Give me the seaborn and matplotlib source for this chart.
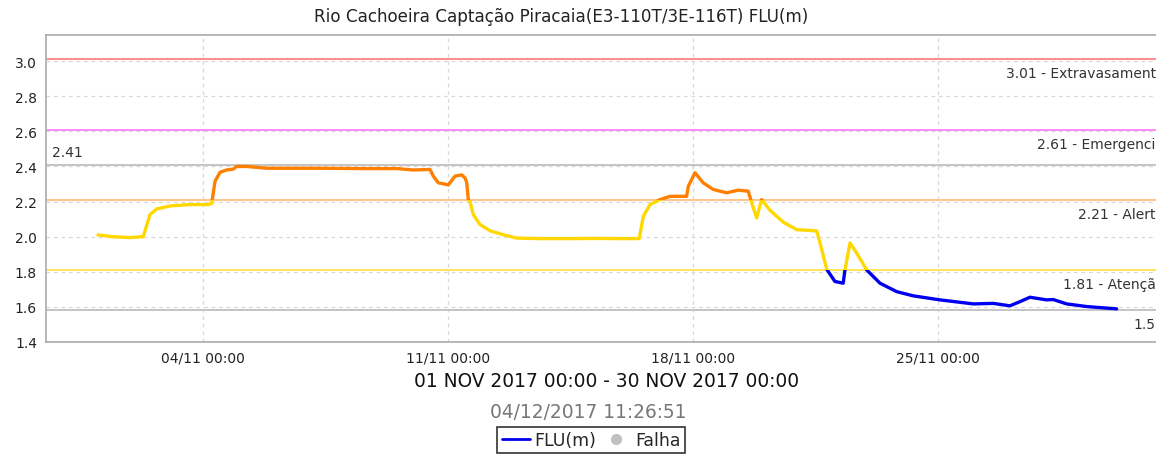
import matplotlib
matplotlib.use("Agg")
import matplotlib.pyplot as plt
import matplotlib.dates as mdates
import matplotlib.transforms as mtransforms
from matplotlib.patches import Rectangle
from matplotlib.lines import Line2D
import pandas as pd
import seaborn as sns

# leituras de nivel (m) - Rio Cachoeira, novembro 2017
tempos = [
    "2017-11-01 00:00", "2017-11-01 10:00", "2017-11-01 22:00", "2017-11-02 06:00",
    "2017-11-02 07:00", "2017-11-02 11:40", "2017-11-02 16:15", "2017-11-03 01:20",
    "2017-11-03 15:00", "2017-11-04 03:40", "2017-11-04 06:00", "2017-11-04 08:15",
    "2017-11-04 11:40", "2017-11-04 16:15", "2017-11-04 20:45", "2017-11-04 23:00",
    "2017-11-05 06:00", "2017-11-05 19:40", "2017-11-07 03:25", "2017-11-08 13:40",
    "2017-11-09 12:50", "2017-11-10 00:00", "2017-11-10 11:40", "2017-11-10 13:55",
    "2017-11-10 17:20", "2017-11-11 00:15", "2017-11-11 04:50", "2017-11-11 09:25",
    "2017-11-11 11:40", "2017-11-11 12:50", "2017-11-11 13:55", "2017-11-11 15:05",
    "2017-11-11 17:20", "2017-11-11 21:56", "2017-11-12 04:50", "2017-11-12 13:55",
    "2017-11-12 23:05", "2017-11-13 15:05", "2017-11-14 13:55", "2017-11-15 03:40",
    "2017-11-15 21:56", "2017-11-16 09:23", "2017-11-16 11:10", "2017-11-16 13:55",
    "2017-11-16 18:30", "2017-11-17 01:20", "2017-11-17 08:14", "2017-11-17 19:40",
    "2017-11-17 20:47", "2017-11-18 01:20", "2017-11-18 07:00", "2017-11-18 13:55",
    "2017-11-18 23:05", "2017-11-19 07:00", "2017-11-19 13:55", "2017-11-19 16:15",
    "2017-11-19 19:40", "2017-11-19 23:05", "2017-11-20 04:50", "2017-11-20 13:55",
    "2017-11-20 23:05", "2017-11-21 12:50", "2017-11-21 16:20", "2017-11-21 19:40",
    "2017-11-22 01:20", "2017-11-22 07:00", "2017-11-22 08:14", "2017-11-22 11:40",
    "2017-11-22 16:15", "2017-11-22 23:05", "2017-11-23 08:14", "2017-11-23 19:40",
    "2017-11-24 07:00", "2017-11-25 01:20", "2017-11-26 00:15", "2017-11-26 13:55",
    "2017-11-27 01:20", "2017-11-27 08:14", "2017-11-27 15:05", "2017-11-28 02:30",
    "2017-11-28 07:00", "2017-11-28 16:15", "2017-11-29 06:00", "2017-11-29 15:05",
    "2017-11-30 02:30",
]
nivel = [
    2.01, 2.00, 1.995, 2.00,
    2.00, 2.126, 2.158, 2.175,
    2.183, 2.183, 2.19, 2.316,
    2.367, 2.38, 2.385, 2.40,
    2.40, 2.39, 2.39, 2.388,
    2.388, 2.38, 2.383, 2.345,
    2.307, 2.295, 2.345, 2.352,
    2.335, 2.31, 2.211, 2.20,
    2.126, 2.069, 2.034, 2.011,
    1.992, 1.989, 1.989, 1.99,
    1.989, 1.989, 1.99, 2.116,
    2.183, 2.211, 2.23, 2.23,
    2.287, 2.364, 2.307, 2.269,
    2.25, 2.265, 2.259, 2.193,
    2.107, 2.211, 2.15, 2.083,
    2.04, 2.033, 1.926, 1.815,
    1.745, 1.735, 1.811, 1.964,
    1.907, 1.811, 1.735, 1.687,
    1.663, 1.64, 1.617, 1.62,
    1.606, 1.63, 1.655, 1.64,
    1.642, 1.617, 1.602, 1.596,
    1.589,
]

# cotas de referencia
cotas = [3.01, 2.61, 2.21, 1.81]
cotas_nomes = ["Extravasamento", "Emergencia", "Alerta", "Atenção"]
cotas_cores = ["#ff8c8c", "#ff88ff", "#ffc48a", "#ffe45c"]
nivel_max = 2.41
nivel_min = 1.58

df = pd.DataFrame({"tempo": pd.to_datetime(tempos), "nivel": nivel})

sns.set_style("white")
plt.rcParams["font.family"] = ["DejaVu Sans"]

fig = plt.figure(figsize=(11.56, 4.6), dpi=100)
ax = fig.add_axes([46 / 1156, 1 - 343 / 460, 1 - 46 / 1156, (343 - 36) / 460])

x0 = pd.Timestamp("2017-11-01") + pd.Timedelta(days=-1.486)
x1 = pd.Timestamp("2017-11-01") + pd.Timedelta(days=30.23)
ax.set_xlim(x0, x1)
ax.set_ylim(1.4, 3.149)

# linhas de cota
for c, cor in zip(cotas, cotas_cores):
    ax.axhline(c, color=cor, lw=1.4, zorder=1)
ax.axhline(nivel_max, color="#c4c4c4", lw=1.4, zorder=1)
ax.axhline(nivel_min, color="#c4c4c4", lw=1.4, zorder=1)

# serie colorida por faixa
faixas = [(2.21, 5.0, "#ff8000"), (1.81, 2.21, "#ffd800"), (0.0, 1.81, "#0000ee")]
trans = mtransforms.blended_transform_factory(ax.transAxes, ax.transData)
for lo, hi, cor in faixas:
    sns.lineplot(data=df, x="tempo", y="nivel", color=cor, lw=2.4, ax=ax, zorder=3)
    linha = ax.lines[-1]
    linha.set_clip_path(Rectangle((0, lo), 1, hi - lo, transform=trans))

# rotulos das cotas (cortados na borda direita, como no original)
for c, nome in zip(cotas, cotas_nomes):
    ax.text(1.0075, c - 0.04, f"{c:.2f} - {nome}", transform=trans, ha="right",
            va="top", fontsize=10, color="#333333", clip_on=False)
ax.text(1.0075, nivel_min - 0.04, f"{nivel_min:.2f}", transform=trans, ha="right",
        va="top", fontsize=10, color="#333333", clip_on=False)
ax.text(0.005, nivel_max + 0.03, f"{nivel_max:.2f}", transform=trans, ha="left",
        va="bottom", fontsize=10, color="#333333")

ax.xaxis.set_major_locator(mdates.DayLocator(bymonthday=[4, 11, 18, 25]))
ax.xaxis.set_major_formatter(mdates.DateFormatter("%d/%m %H:%M"))
ax.set_yticks([1.4, 1.6, 1.8, 2.0, 2.2, 2.4, 2.6, 2.8, 3.0])
ax.yaxis.set_major_formatter(matplotlib.ticker.FormatStrFormatter("%.1f"))
ax.tick_params(axis="both", labelsize=10, length=3, color="#999999", labelcolor="#222222")
ax.tick_params(axis="x", pad=3)
ax.grid(True, color="#d8d8d8", ls=(0, (3, 3)), lw=0.9)
for s in ["left", "bottom", "top"]:
    ax.spines[s].set_color("#aaaaaa")
    ax.spines[s].set_linewidth(1.2)
ax.spines["right"].set_visible(False)

ax.set_xlabel("")
ax.set_ylabel("")
fig.text(561 / 1156, 1 - 17 / 460, "Rio Cachoeira Captação Piracaia(E3-110T/3E-116T) FLU(m)",
         ha="center", va="center", fontsize=12.1, color="#222222")
fig.text(607 / 1156, 1 - 382 / 460, "01 NOV 2017 00:00 - 30 NOV 2017 00:00",
         ha="center", va="center", fontsize=13.4, color="#111111")
fig.text(588 / 1156, 1 - 412 / 460, "04/12/2017 11:26:51",
         ha="center", va="center", fontsize=13.4, color="#777777")

handles = [Line2D([], [], color="#0000ee", lw=2),
           Line2D([], [], color="#c0c0c0", marker="o", ls="", markersize=7)]
leg = fig.legend(handles, ["FLU(m)", "Falha"], loc="center", bbox_to_anchor=(591 / 1156, 1 - 441 / 460),
                 ncol=2, fontsize=12.5, frameon=True, fancybox=False, edgecolor="black",
                 handlelength=1.6, handletextpad=0.3, columnspacing=0.3, borderpad=0.25)
leg.get_frame().set_linewidth(1.2)

fig.savefig("out.png", dpi=100)
